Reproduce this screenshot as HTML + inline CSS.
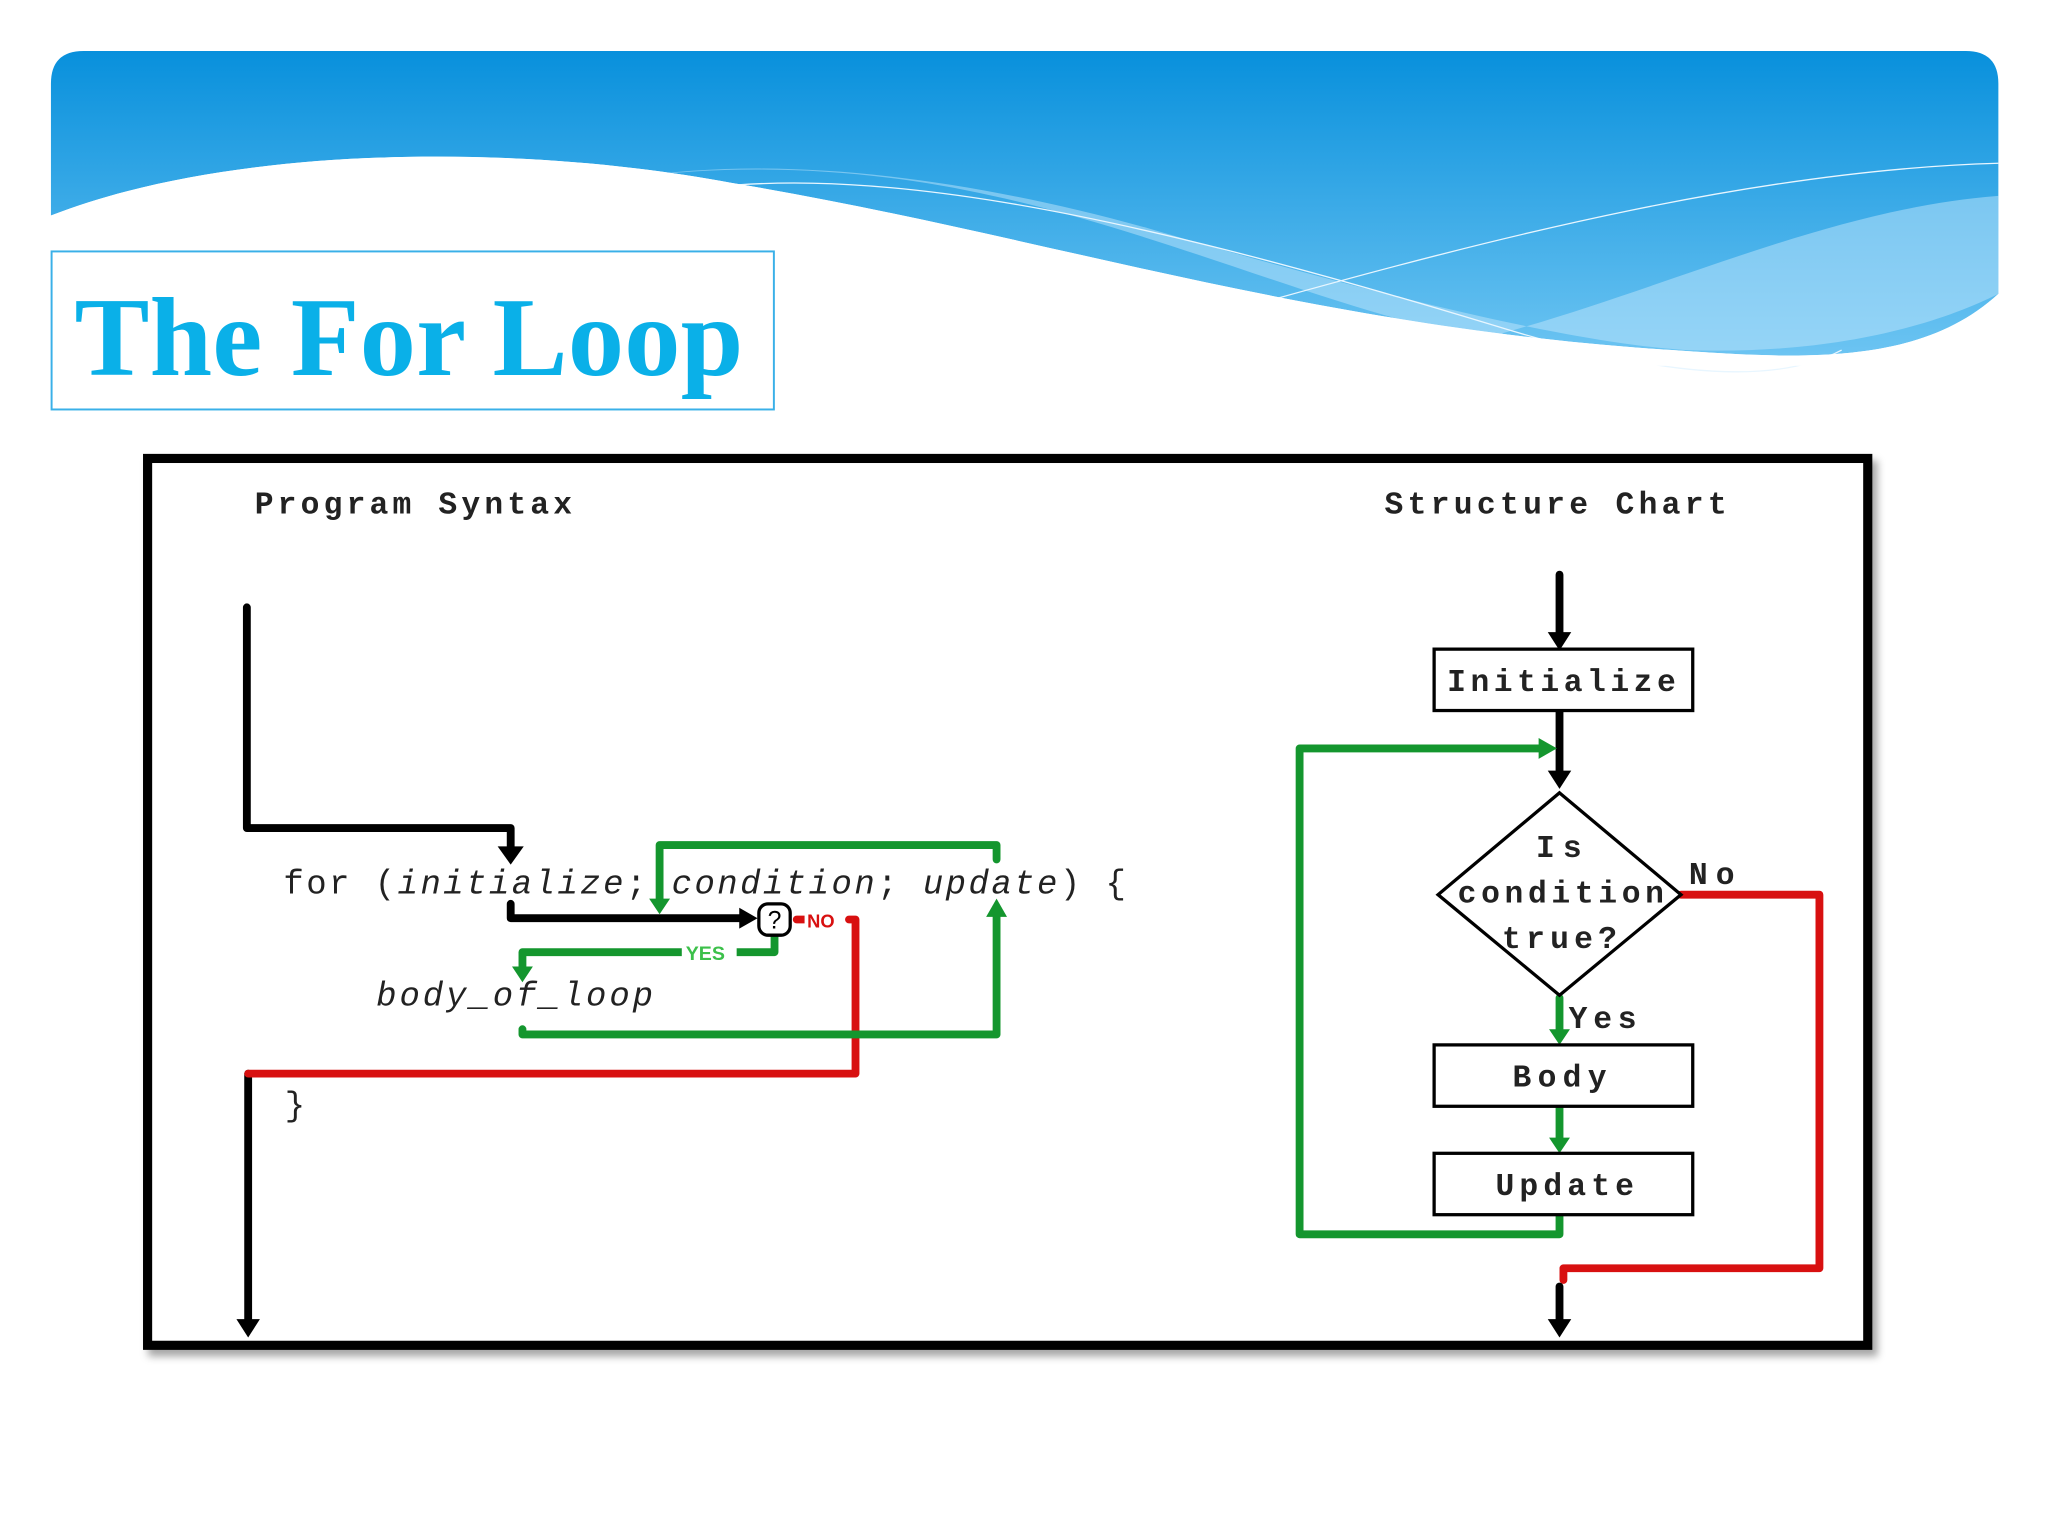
<!DOCTYPE html>
<html><head><meta charset="utf-8"><style>
html,body{margin:0;padding:0;background:#fff;}
svg{display:block;}
</style></head><body>
<svg width="2048" height="1536" viewBox="0 0 1568 1176" xmlns="http://www.w3.org/2000/svg">
<defs>
<linearGradient id="bg" x1="0" y1="0" x2="0" y2="1">
<stop offset="0" stop-color="#0890dc"/><stop offset="1" stop-color="#6cc4f2"/>
</linearGradient>
<filter id="sh" x="-5%" y="-5%" width="110%" height="110%"><feDropShadow dx="4" dy="5" stdDeviation="3" flood-color="#000" flood-opacity="0.35"/></filter>
</defs>
<rect width="1568" height="1176" fill="#fff"/>
<path d="M39,64 Q39,39 64,39 L1505,39 Q1530,39 1530,64 L1530,225 C1470,280 1380,275 1280,268 C1000,250 800,180 560,140 C400,110 180,110 39,165 Z" fill="url(#bg)"/>
<path d="M460,140 C560,120 700,125 880,175 C1050,225 1200,262 1290,268 C1400,272 1480,250 1530,225 L1530,150 C1400,160 1280,220 1140,258 C1050,250 900,180 760,150 C650,125 540,125 460,140 Z" fill="#bfe6fb" opacity="0.5"/>
<path d="M500,150 C650,120 850,160 1140,248 C1250,282 1350,300 1410,268" stroke="#e8f6ff" stroke-width="1" fill="none"/>
<path d="M965,232 C1150,180 1350,130 1530,125" stroke="#e8f6ff" stroke-width="1" fill="none"/>
<path d="M39,165 C180,110 400,110 560,140 C800,180 1000,250 1280,268 C1380,275 1470,280 1530,225 L1530,280 L39,280 Z" fill="#fff"/>
<rect x="39.5" y="192.5" width="553" height="121" fill="#fff" stroke="#3ab0e8" stroke-width="1.5"/>
<text x="57" y="287" font-family="Liberation Serif, serif" font-weight="bold" font-size="86" fill="#0ab0e8" textLength="512" lengthAdjust="spacing">The For Loop</text>
<rect x="113" y="351" width="1317" height="679" fill="#fff" stroke="#000" stroke-width="7" filter="url(#sh)"/>
<g font-family="Liberation Mono, monospace" font-weight="bold" font-size="24" fill="#222">
<text x="195" y="393" textLength="243" lengthAdjust="spacing">Program Syntax</text>
<text x="1060" y="393" textLength="262" lengthAdjust="spacing">Structure Chart</text>
</g>
<g font-family="Liberation Mono, monospace" font-size="26" fill="#222">
<text x="217" y="684" textLength="645" lengthAdjust="spacing">for (<tspan font-style="italic">initialize</tspan>; <tspan font-style="italic">condition</tspan>; <tspan font-style="italic">update</tspan>) {</text>
<text x="288" y="770" font-style="italic" textLength="212" lengthAdjust="spacing">body_of_loop</text>
<text x="218" y="854">}</text>
</g>
<g fill="none" stroke-width="6" stroke-linejoin="round" stroke-linecap="round">
<path d="M189,465 V634 H391 V650" stroke="#000"/>
<path d="M391,692 V703 H570" stroke="#000"/>
<path d="M190,822 V1012" stroke="#000"/>
<path d="M650,704 H655 V822 H190" stroke="#d81010"/>
<path d="M610,704 H616" stroke="#d81010"/>
<path d="M593,716 V729 H400 V742" stroke="#14962e"/>
<path d="M400,788 V792 H763 V700" stroke="#14962e"/>
<path d="M763,658 V647 H505 V690" stroke="#14962e"/>
<path d="M1194,440 V486" stroke="#000"/>
<path d="M1194,545 V592" stroke="#000"/>
<path d="M1194,764 V790" stroke="#14962e"/>
<path d="M1194,848 V873" stroke="#14962e"/>
<path d="M1194,930 V945 H995 V573 H1180" stroke="#14962e"/>
<path d="M1287,685 H1393 V971 H1197 V980" stroke="#d81010"/>
<path d="M1194,985 V1012" stroke="#000"/>
</g>
<g>
<polygon points="381,648 401,648 391,662" fill="#000"/>
<polygon points="566,695 580,703 566,711" fill="#000"/>
<polygon points="181,1010 199,1010 190,1024" fill="#000"/>
<polygon points="392,740 408,740 400,752" fill="#14962e"/>
<polygon points="755,702 771,702 763,688" fill="#14962e"/>
<polygon points="497,688 513,688 505,700" fill="#14962e"/>
<polygon points="1185,484 1203,484 1194,498" fill="#000"/>
<polygon points="1185,590 1203,590 1194,604" fill="#000"/>
<polygon points="1186,788 1202,788 1194,800" fill="#14962e"/>
<polygon points="1186,871 1202,871 1194,883" fill="#14962e"/>
<polygon points="1178,565 1192,573 1178,581" fill="#14962e"/>
<polygon points="1185,1010 1203,1010 1194,1024" fill="#000"/>
</g>
<rect x="581" y="692" width="24" height="24" rx="7" fill="#fff" stroke="#000" stroke-width="2.5"/>
<text x="593" y="711" text-anchor="middle" font-family="Liberation Sans, sans-serif" font-size="19" fill="#000">?</text>
<rect x="616" y="696" width="30" height="16" fill="#fff"/>
<text x="618" y="710" font-family="Liberation Sans, sans-serif" font-weight="bold" font-size="14" fill="#d81010">NO</text>
<rect x="522" y="721" width="42" height="16" fill="#fff"/>
<text x="525" y="735" font-family="Liberation Sans, sans-serif" font-weight="bold" font-size="15" fill="#3cc04a">YES</text>
<g fill="#fff" stroke="#000" stroke-width="2.5">
<rect x="1098" y="497" width="198" height="47"/>
<polygon points="1194,607 1287,685 1194,762 1101,685"/>
<rect x="1098" y="800" width="198" height="47"/>
<rect x="1098" y="883" width="198" height="47"/>
</g>
<g font-family="Liberation Mono, monospace" font-weight="bold" font-size="24" fill="#222">
<text x="1108" y="529" textLength="175" lengthAdjust="spacing">Initialize</text>
<text x="1176" y="656" textLength="35" lengthAdjust="spacing">Is</text>
<text x="1116" y="691" textLength="158" lengthAdjust="spacing">condition</text>
<text x="1150" y="726" textLength="88" lengthAdjust="spacing">true?</text>
<text x="1158" y="832" textLength="72" lengthAdjust="spacing">Body</text>
<text x="1145" y="915" textLength="106" lengthAdjust="spacing">Update</text>
<text x="1293" y="677" textLength="35" lengthAdjust="spacing">No</text>
<text x="1201" y="787" textLength="52" lengthAdjust="spacing">Yes</text>
</g>
</svg>
</body></html>
